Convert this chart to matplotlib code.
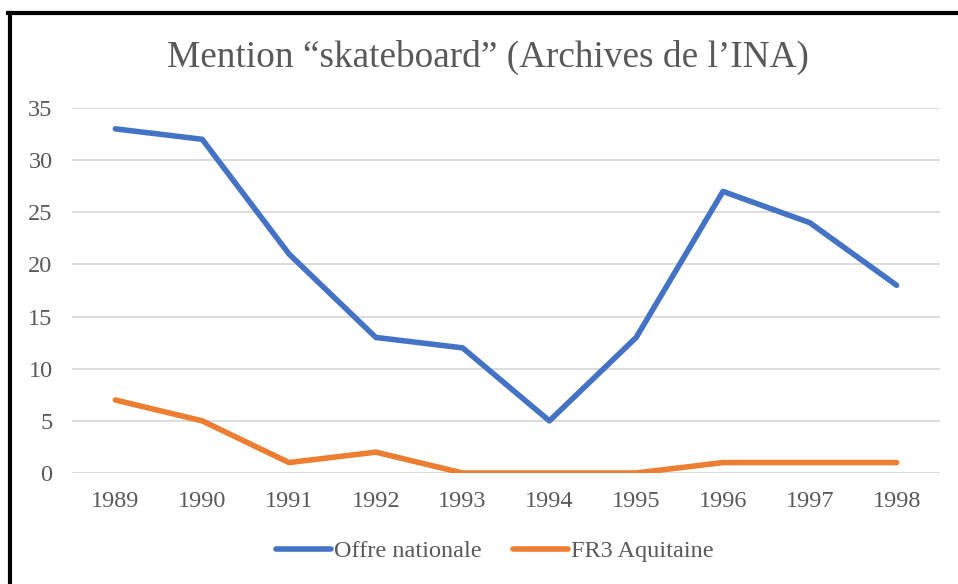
import matplotlib
matplotlib.use("Agg")
import matplotlib.pyplot as plt
from matplotlib.lines import Line2D

years = ["1989", "1990", "1991", "1992", "1993", "1994", "1995", "1996", "1997", "1998"]
offre_nationale = [33, 32, 21, 13, 12, 5, 13, 27, 24, 18]
fr3_aquitaine = [7, 5, 1, 2, 0, 0, 0, 1, 1, 1]
yticks = [0, 5, 10, 15, 20, 25, 30, 35]

plt.rcParams['font.family'] = ['Liberation Serif', 'DejaVu Serif']
W, H = 958, 584
fig = plt.figure(figsize=(W / 100, H / 100), dpi=100)
fig.patch.set_facecolor('white')

ax = fig.add_axes([72 / W, 1 - 473 / H, (940 - 72) / W, (473 - 108) / H])
x = list(range(len(years)))
ax.plot(x, offre_nationale, color='#4472C4', lw=4, solid_capstyle='round', solid_joinstyle='round', label='Offre nationale', zorder=3)
ax.plot(x, fr3_aquitaine, color='#ED7D31', lw=4, solid_capstyle='round', solid_joinstyle='round', label='FR3 Aquitaine', zorder=3)

ax.set_xlim(-0.5, len(years) - 0.5)
ax.set_ylim(0, 35)
ax.set_yticks(yticks)
ax.set_xticks(x)
ax.set_xticklabels(years)
ax.grid(axis='y', color='#D9D9D9', lw=1.3)
ax.set_axisbelow(True)
for s in ax.spines.values():
    s.set_visible(False)
ax.tick_params(axis='both', length=0, labelsize=17.5, labelcolor='#595959')
ax.tick_params(axis='y', pad=14)
ax.tick_params(axis='x', pad=13)

fig.text(488 / W, 1 - 57 / H, "Mention “skateboard” (Archives de l’INA)", ha='center', va='center',
         fontsize=26.8, color='#595959')

leg = fig.legend(handles=[Line2D([], [], color='#4472C4', lw=4, solid_capstyle='round'),
                          Line2D([], [], color='#ED7D31', lw=4, solid_capstyle='round')],
                 labels=['Offre nationale', 'FR3 Aquitaine'], loc='center',
                 bbox_to_anchor=(495 / W, 1 - 551 / H), ncol=2, frameon=False, fontsize=17.5,
                 handlelength=2.25, handletextpad=0.12, columnspacing=1.3)
for t in leg.get_texts():
    t.set_color('#595959')

# Black frame (top and left only visible)
fig.add_artist(Line2D([8 / W, 1], [1 - 13 / H, 1 - 13 / H], color='black', lw=3, transform=fig.transFigure))
fig.add_artist(Line2D([9.5 / W, 9.5 / W], [0, 1 - 13 / H], color='black', lw=3, transform=fig.transFigure))

fig.savefig("out.png", dpi=100)
